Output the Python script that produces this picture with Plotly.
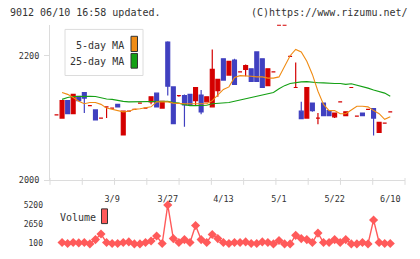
import plotly.graph_objects as go

# ---------------- data ----------------
date_labels = ["3/9", "3/27", "4/13", "5/1", "5/22", "6/10"]
label_index = [10, 20, 30, 40, 50, 60]

opens = [2105, 2100, 2128, 2107, 2135, 2141, 2120, 2113, 2100, 2118,
         2116, 2122, 2073, 2111, 2114, 2124, 2116, 2126, 2140, 2116,
         2222, 2150, 2136, 2136, 2138, 2128, 2137, 2126, 2118, 2144,
         2195, 2169, 2193, 2174, 2178, 2179, 2206, 2195, 2152, 2174,
         2260, 2260, 2199, 2149, 2111, 2100, 2124, 2100, 2124, 2112,
         2102, 2126, 2104, 2149, 2103, 2108, 2114, 2115, 2077, 2092, 2110]
highs = [2105, 2128, 2128, 2138, 2135, 2141, 2120, 2113, 2100, 2118,
         2116, 2122, 2111, 2111, 2114, 2124, 2116, 2134, 2140, 2127,
         2223, 2150, 2136, 2138, 2138, 2149, 2145, 2134, 2210, 2162,
         2195, 2191, 2195, 2174, 2186, 2179, 2206, 2195, 2179, 2174,
         2260, 2260, 2199, 2189, 2126, 2149, 2124, 2108, 2124, 2112,
         2108, 2126, 2110, 2149, 2103, 2108, 2114, 2115, 2093, 2092, 2110]
lows = [2105, 2100, 2107, 2107, 2128, 2108, 2120, 2097, 2100, 2100,
        2116, 2118, 2073, 2111, 2114, 2124, 2116, 2122, 2118, 2116,
        2136, 2091, 2134, 2086, 2121, 2121, 2106, 2126, 2118, 2134,
        2161, 2169, 2154, 2174, 2167, 2159, 2159, 2149, 2152, 2174,
        2260, 2260, 2199, 2149, 2099, 2100, 2110, 2090, 2104, 2104,
        2100, 2126, 2104, 2149, 2103, 2104, 2114, 2072, 2077, 2092, 2110]
closes = [2105, 2128, 2107, 2138, 2128, 2132, 2120, 2097, 2100, 2118,
          2116, 2118, 2111, 2111, 2114, 2124, 2116, 2134, 2118, 2127,
          2151, 2091, 2136, 2121, 2121, 2149, 2110, 2134, 2178, 2162,
          2161, 2191, 2154, 2174, 2184, 2159, 2159, 2149, 2179, 2174,
          2260, 2260, 2199, 2149, 2099, 2149, 2112, 2100, 2104, 2104,
          2108, 2126, 2110, 2149, 2103, 2104, 2114, 2100, 2093, 2092, 2110]

ma5 = [2141, 2138, 2133, 2127, 2123, 2125, 2125, 2122, 2116, 2114,
       2111, 2110, 2111, 2114, 2115, 2117, 2118, 2126, 2126, 2126,
       2124, 2123, 2123, 2123, 2123, 2123, 2123, 2128, 2137, 2146,
       2150, 2165, 2168, 2168, 2167, 2166, 2166, 2164, 2164, 2166,
       2183, 2200, 2210, 2206, 2191, 2170, 2143, 2122, 2112, 2112,
       2107, 2107, 2113, 2119, 2119, 2118, 2112, 2107, 2098, 2102]
ma25 = [2130, 2133, 2134.6, 2135, 2135, 2135, 2134.6, 2132.5, 2130.5, 2130,
        2128, 2126.8, 2126, 2126, 2126, 2126, 2126, 2127, 2127, 2127,
        2125, 2124, 2121.5, 2120, 2120, 2120.5, 2120.5, 2123, 2123.6, 2124,
        2125, 2127, 2129, 2131, 2133, 2135, 2137, 2139, 2141, 2147,
        2152, 2155.5, 2157, 2158, 2158.5, 2157, 2156.6, 2156.5, 2155.5, 2155.5,
        2155.5, 2154, 2155, 2153, 2150, 2148, 2145, 2142, 2140, 2135]
volume = [230, 100, 230, 180, 230, 50, 620, 1350, 230, 100,
          100, 230, 310, 50, 50, 230, 440, 1090, 100, 5200,
          750, 230, 620, 230, 2480, 620, 230, 1300, 750, 230,
          100, 230, 230, 310, 100, 100, 310, 230, 50, 490,
          50, 50, 1180, 750, 620, 230, 1480, 230, 230, 620,
          230, 620, 50, 50, 230, 50, 3220, 230, 100, 100]

idx = list(range(len(closes)))
line_idx = idx[1:]

# ---------------- styling ----------------
W, H = 420, 259
RED = "#d40000"
BLUE = "#4040c0"
ORANGE = "#f08c14"
GREEN = "#14a014"
VOLC = "#ff5a5a"
AXC = "#dcdcdc"
TXT = "#333333"
MONO = "DejaVu Sans Mono"
YMIN, YMAX = 2000, 2250
XR = [-1.17, 62.65]


def px(x):
    return x / W


def py(y):
    return 1 - y / H


def clamp(v):
    return min(max(v, YMIN + 1), YMAX - 1)


up = [i for i in idx if closes[i] >= opens[i]]
dn = [i for i in idx if closes[i] < opens[i]]


def ctrace(sel, color):
    return go.Candlestick(
        x=sel,
        open=[clamp(opens[i]) for i in sel],
        high=[clamp(highs[i]) for i in sel],
        low=[clamp(lows[i]) for i in sel],
        close=[clamp(closes[i]) for i in sel],
        increasing=dict(line=dict(color=color, width=1.2), fillcolor=color),
        decreasing=dict(line=dict(color=color, width=1.2), fillcolor=color),
        whiskerwidth=0, showlegend=False, xaxis="x", yaxis="y",
    )


fig = go.Figure()
fig.add_trace(ctrace(up, RED))
fig.add_trace(ctrace(dn, BLUE))
fig.add_trace(go.Scatter(x=line_idx, y=ma25, mode="lines",
                         line=dict(color=GREEN, width=1.1), showlegend=False))
fig.add_trace(go.Scatter(x=line_idx, y=ma5, mode="lines",
                         line=dict(color=ORANGE, width=1.1), showlegend=False))
fig.add_trace(go.Scatter(x=line_idx, y=volume, mode="lines+markers",
                         line=dict(color=VOLC, width=1.4),
                         marker=dict(symbol="diamond", size=7, color=VOLC),
                         xaxis="x2", yaxis="y2", cliponaxis=False, showlegend=False))

tickfont = dict(family=MONO, size=8.5, color=TXT)

fig.update_layout(
    width=W, height=H, margin=dict(l=0, r=0, t=0, b=0),
    paper_bgcolor="white", plot_bgcolor="white",
    boxgap=0.3, boxgroupgap=0, boxmode="overlay",
    xaxis=dict(domain=[px(50), px(405)], range=XR, anchor="y",
               tickvals=label_index, ticktext=date_labels,
               ticks="outside", ticklen=4, tickcolor="rgba(0,0,0,0)",
               ticklabelstandoff=6,
               showline=True, linecolor=AXC, linewidth=1,
               showgrid=False, zeroline=False, rangeslider=dict(visible=False),
               tickfont=tickfont, fixedrange=True),
    yaxis=dict(domain=[py(184), py(25)], range=[YMIN, YMAX], anchor="x",
               tickvals=[2000, 2200], ticktext=["2000", "2200"],
               ticks="outside", ticklen=5, tickcolor=AXC, ticklabelstandoff=3,
               showline=True, linecolor=AXC, linewidth=1,
               showgrid=False, zeroline=False, tickfont=tickfont),
    xaxis2=dict(domain=[px(50), px(405)], range=XR, anchor="y2", visible=False),
    yaxis2=dict(domain=[py(253), py(203)], range=[-510, 5980], anchor="x2",
                tickvals=[100, 2650, 5200], ticktext=["100", "2650", "5200"],
                ticks="", showline=False, showgrid=False, zeroline=False,
                ticklabelstandoff=6,
                tickfont=dict(family=MONO, size=8, color=TXT)),
)

shapes = []
# crossing tick marks on the x axis (11 equal divisions)
for k in range(12):
    shapes.append(dict(type="line", xref="x domain", yref="paper",
                       x0=k / 11, x1=k / 11, y0=py(181.5), y1=py(188.5),
                       line=dict(color=AXC, width=1)))
# legend box
shapes.append(dict(type="rect", xref="paper", yref="paper",
                   x0=px(65), x1=px(143), y0=py(77), y1=py(30),
                   line=dict(color=AXC, width=1), fillcolor="white"))
shapes.append(dict(type="rect", xref="paper", yref="paper",
                   x0=px(131), x1=px(137.5), y0=py(52.5), y1=py(37),
                   line=dict(color="#333", width=1), fillcolor=ORANGE))
shapes.append(dict(type="rect", xref="paper", yref="paper",
                   x0=px(131), x1=px(137.5), y0=py(69.5), y1=py(54.5),
                   line=dict(color="#333", width=1), fillcolor=GREEN))
# volume legend swatch
shapes.append(dict(type="rect", xref="paper", yref="paper",
                   x0=px(101.5), x1=px(107.5), y0=py(228), y1=py(213),
                   line=dict(color="#333", width=1), fillcolor=VOLC))
fig.update_layout(shapes=shapes)

ann = [
    dict(text="9012 06/10 16:58 updated.", x=px(8), y=py(12.5),
         xanchor="left", yanchor="middle", font=dict(family=MONO, size=10, color=TXT)),
    dict(text="(C)https://www.rizumu.net/", x=px(410), y=py(12.5),
         xanchor="right", yanchor="middle", font=dict(family=MONO, size=10, color=TXT)),
    dict(text="5-day MA", x=px(126), y=py(46), xanchor="right", yanchor="middle",
         font=dict(family=MONO, size=10, color=TXT)),
    dict(text="25-day MA", x=px(126), y=py(63), xanchor="right", yanchor="middle",
         font=dict(family=MONO, size=10, color=TXT)),
    dict(text="Volume", x=px(58), y=py(222), xanchor="left", yanchor="middle",
         font=dict(family=MONO, size=10, color=TXT)),
]
for a in ann:
    a.update(xref="paper", yref="paper", showarrow=False)
fig.update_layout(annotations=ann)

fig.write_html("out.html", config={"displayModeBar": False})
